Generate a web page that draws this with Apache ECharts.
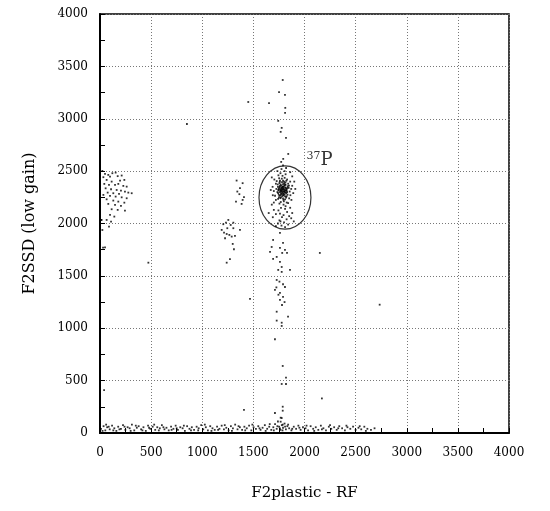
<!DOCTYPE html>
<html>
<head>
<meta charset="utf-8">
<script src="https://cdn.jsdelivr.net/npm/echarts@6/dist/echarts.min.js"></script>
<style>html,body{margin:0;padding:0;background:#fff}#c{width:550px;height:511px}</style>
</head>
<body>
<div id="c"></div>
<script>
// ---- Data ----
const xName = 'F2plastic - RF';
const yName = 'F2SSD (low gain)';
const xTicks = [0, 500, 1000, 1500, 2000, 2500, 3000, 3500, 4000];
const yTicks = [0, 500, 1000, 1500, 2000, 2500, 3000, 3500, 4000];

const blobCore = [[1785,2320],[1770,2335],[1800,2310],[1760,2300],[1810,2345],[1795,2290],[1775,2360],[1820,2320],[1750,2330],[1790,2375],[1805,2280],[1765,2270],[1830,2300],[1740,2350],[1780,2395],[1815,2370],[1755,2385],[1800,2400],[1825,2260],[1770,2250],[1735,2300],[1845,2340],[1790,2240],[1810,2230],[1760,2410],[1840,2380],[1725,2330],[1795,2350],[1780,2305],[1812,2315],[1768,2318],[1788,2282],[1802,2362],[1758,2352],[1822,2288],[1748,2276],[1836,2356],[1778,2428],[1806,2436],[1752,2432],[1830,2420],[1720,2380],[1855,2305],[1862,2270],[1712,2265],[1742,2235],[1850,2240],[1798,2212],[1768,2205],[1826,2200],[1785,2455],[1815,2470],[1745,2460],[1765,2480],[1805,2500],[1700,2310],[1870,2330],[1860,2400],[1705,2420],[1728,2405],[1776,2342],[1792,2328],[1784,2298],[1808,2300],[1772,2288],[1762,2322],[1818,2338],[1796,2268],[1782,2262],[1756,2265],[1828,2330],[1746,2315],[1814,2392],[1768,2372],[1790,2410],[1802,2385],[1738,2372],[1848,2362],[1822,2408],[1758,2398],[1786,2348],[1774,2312],[1798,2332],[1810,2258],[1742,2290],[1834,2275],[1764,2242],[1820,2248],[1794,2226],[1750,2250],[1688,2350],[1890,2290],[1880,2360],[1690,2270],[1720,2225],[1872,2225],[1840,2195],[1755,2190],[1795,2180],[1815,2165],[1680,2440],[1880,2450],[1735,2500],[1860,2490],[1775,2520],[1820,2530],[1790,2555],[1700,2200],[1900,2400],[1670,2320],[1910,2330],[1783,2338],[1797,2306],[1779,2326],[1804,2322],[1766,2306],[1816,2296],[1789,2352],[1771,2280],[1809,2370],[1753,2342],[1826,2312],[1761,2362],[1793,2272],[1744,2322],[1833,2342]];

const blobTail = [[1770,2150],[1810,2140],[1745,2125],[1830,2110],[1760,2095],[1795,2080],[1720,2090],[1850,2070],[1780,2060],[1700,2130],[1825,2040],[1755,2030],[1870,2050],[1690,2060],[1800,2010],[1740,2000],[1840,1990],[1775,1980],[1810,1965],[1720,1975],[1860,2150],[1650,2100],[1880,2100],[1765,2020],[1895,2020],[1680,2180]];

const streak = [[1787,3370],[1751,3255],[1809,3228],[1812,3104],[1810,3056],[1743,2980],[1777,2913],[1767,2875],[1819,2817],[1841,2664],[1792,2617],[1772,2588],[1450,3160],[1653,3150],[850,2950],[1760,1910],[1693,1843],[1790,1815],[1679,1776],[1760,1767],[1809,1748],[1663,1729],[1782,1719],[1829,1719],[1728,1681],[1693,1662],[1760,1633],[1777,1585],[1743,1557],[1777,1538],[1858,1557],[1728,1461],[1809,1394],[1711,1366],[1760,1337],[1790,1299],[1760,1270],[1780,1222],[1467,1280],[2150,1719],[1755,1445],[1790,1420],[1725,1390],[1745,1320],[1805,1250],[1728,1158],[1839,1111],[1728,1073],[1777,1053],[1777,1022],[1711,895],[1787,640],[1819,528],[1777,468],[1819,468],[1787,251],[1787,213],[1711,191],[1767,146],[1408,220],[2170,330],[2735,1225],[1777,143],[1767,108],[1787,80]];

const leftCluster = [[23,2502],[49,2473],[81,2464],[121,2480],[153,2486],[33,2442],[98,2448],[173,2452],[212,2458],[65,2416],[114,2400],[196,2410],[238,2416],[42,2378],[88,2368],[147,2368],[179,2378],[228,2359],[261,2352],[55,2336],[108,2327],[163,2320],[205,2314],[244,2304],[75,2295],[130,2289],[186,2282],[277,2295],[310,2289],[33,2273],[98,2263],[153,2257],[212,2250],[261,2241],[65,2231],[130,2219],[179,2209],[238,2199],[81,2187],[147,2177],[205,2168],[114,2136],[173,2130],[244,2123],[98,2082],[140,2066],[65,2034],[108,2018],[16,2034],[88,1970],[23,1938],[49,1773],[30,1770],[10,2034],[40,410],[473,1626]];

const midCluster = [[1336,2410],[1395,2385],[1369,2337],[1343,2305],[1363,2280],[1408,2251],[1395,2225],[1330,2209],[1385,2187],[1255,2034],[1232,2008],[1304,2008],[1206,1993],[1278,1986],[1245,1955],[1190,1939],[1304,1955],[1369,1939],[1213,1913],[1239,1900],[1265,1891],[1288,1875],[1320,1881],[1223,1859],[1298,1805],[1310,1754],[1271,1659],[1239,1626]];

const bottomBand = [[10,40],[35,65],[52,25],[70,55],[95,35],[118,70],[140,45],[160,20],[178,60],[205,40],[225,75],[248,30],[270,55],[290,45],[312,80],[335,25],[360,50],[378,65],[402,35],[425,55],[448,20],[470,70],[492,40],[515,60],[540,30],[560,55],[585,45],[605,75],[630,35],[650,50],[672,25],[695,60],[718,40],[740,70],[762,30],[785,55],[808,45],[830,20],[852,65],[875,40],[898,55],[920,30],[945,60],[965,45],[990,75],[1010,35],[1035,55],[1055,25],[1078,65],[1100,45],[1122,30],[1145,60],[1168,40],[1190,70],[1212,35],[1235,50],[1258,25],[1280,65],[1300,45],[1322,80],[1345,35],[1368,55],[1390,30],[1412,60],[1435,45],[1458,70],[1480,25],[1502,55],[1525,40],[1548,65],[1570,30],[1590,50],[1612,75],[1635,40],[1655,60],[1675,30],[1695,55],[1712,85],[1728,40],[1740,110],[1752,60],[1765,30],[1778,75],[1790,50],[1805,90],[1818,35],[1832,65],[1850,45],[1872,25],[1895,60],[1918,40],[1940,70],[1962,30],[1985,55],[2010,45],[2035,25],[2060,65],[2085,40],[2110,55],[2135,30],[2160,70],[2185,45],[2210,25],[2238,60],[2262,40],[2290,55],[2315,30],[2340,65],[2368,45],[2395,25],[2420,55],[2448,40],[2475,60],[2500,30],[2528,50],[2555,35],[2585,60],[2615,40],[2650,30],[2685,45],[25,20],[60,80],[85,60],[130,25],[190,35],[240,60],[300,20],[350,70],[415,25],[480,50],[530,80],[575,25],[620,55],[700,30],[750,45],[820,70],[890,25],[960,25],[1025,80],[1090,20],[1155,30],[1220,75],[1290,20],[1355,65],[1420,25],[1490,80],[1560,45],[1620,20],[1660,85],[1700,25],[1735,65],[1760,45],[1785,25],[1810,60],[1840,80],[1880,40],[1950,50],[2020,70],[2095,20],[2170,35],[2250,75],[2330,45],[2410,70],[2540,65],[2600,20]];

// annotation: gate ellipse (center and radii in data units) and isotope label
const gateCenter = [1809, 2248];
const gateRadii = [254, 302];
const isoLabelPos = [2020, 2600];
const isoMass = '37';
const isoName = 'P';

const serif = '"DejaVu Serif", "Liberation Serif", serif';
const allPoints = [].concat(blobCore, blobTail, streak, leftCluster, midCluster, bottomBand);
const plain = v => String(v);

const chart = echarts.init(document.getElementById('c'), null, {renderer: 'canvas'});
chart.setOption({
  backgroundColor: '#fff',
  animation: false,
  grid: {left: 100, right: 41, top: 14, bottom: 78, show: true, borderColor: '#000', borderWidth: 1.5, backgroundColor: 'transparent'},
  xAxis: {
    type: 'value', min: xTicks[0], max: xTicks[xTicks.length-1], interval: 500,
    name: xName, nameLocation: 'middle', nameGap: 53,
    nameTextStyle: {fontFamily: serif, fontSize: 15, color: '#000'},
    axisLine: {lineStyle: {color: '#000', width: 2}},
    axisTick: {inside: true, length: 5, lineStyle: {color: '#000'}},
    minorTick: {show: true, splitNumber: 2, length: 5, lineStyle: {color: '#000'}},
    splitLine: {show: true, lineStyle: {color: '#777', width: 1, type: [1, 2]}},
    axisLabel: {fontFamily: serif, fontSize: 12, color: '#000', margin: 14, formatter: plain}
  },
  yAxis: {
    type: 'value', min: yTicks[0], max: yTicks[yTicks.length-1], interval: 500,
    name: yName, nameLocation: 'middle', nameGap: 62,
    nameTextStyle: {fontFamily: serif, fontSize: 16, color: '#000'},
    axisLine: {lineStyle: {color: '#000', width: 2}},
    axisTick: {inside: true, length: 5, lineStyle: {color: '#000'}},
    minorTick: {show: true, splitNumber: 2, length: 5, lineStyle: {color: '#000'}},
    splitLine: {show: true, lineStyle: {color: '#777', width: 1, type: [1, 2]}},
    axisLabel: {fontFamily: serif, fontSize: 12, color: '#000', margin: 12, formatter: plain}
  },
  series: [
    {
      type: 'scatter', data: allPoints, symbol: 'rect', symbolSize: 1.8,
      itemStyle: {color: '#000'}, silent: true
    },
    {
      type: 'custom', silent: true, data: [[gateCenter[0], gateCenter[1]]],
      renderItem: function (params, api) {
        const c = api.coord([gateCenter[0], gateCenter[1]]);
        const e = api.coord([gateCenter[0] + gateRadii[0], gateCenter[1] + gateRadii[1]]);
        return {
          type: 'ellipse',
          shape: {cx: c[0], cy: c[1], rx: Math.abs(e[0]-c[0]), ry: Math.abs(e[1]-c[1])},
          style: {fill: 'none', stroke: '#333', lineWidth: 1.2}
        };
      }
    },
    {
      type: 'scatter', silent: true, symbolSize: 0, data: [isoLabelPos],
      label: {
        show: true, position: 'right', distance: 0,
        formatter: '{sup|' + isoMass + '}{p|' + isoName + '}',
        rich: {
          sup: {fontFamily: serif, fontSize: 11, color: '#000', padding: [0, 0, 9, 0]},
          p: {fontFamily: serif, fontSize: 18, color: '#000'}
        }
      }
    }
  ]
});
</script>
</body>
</html>
